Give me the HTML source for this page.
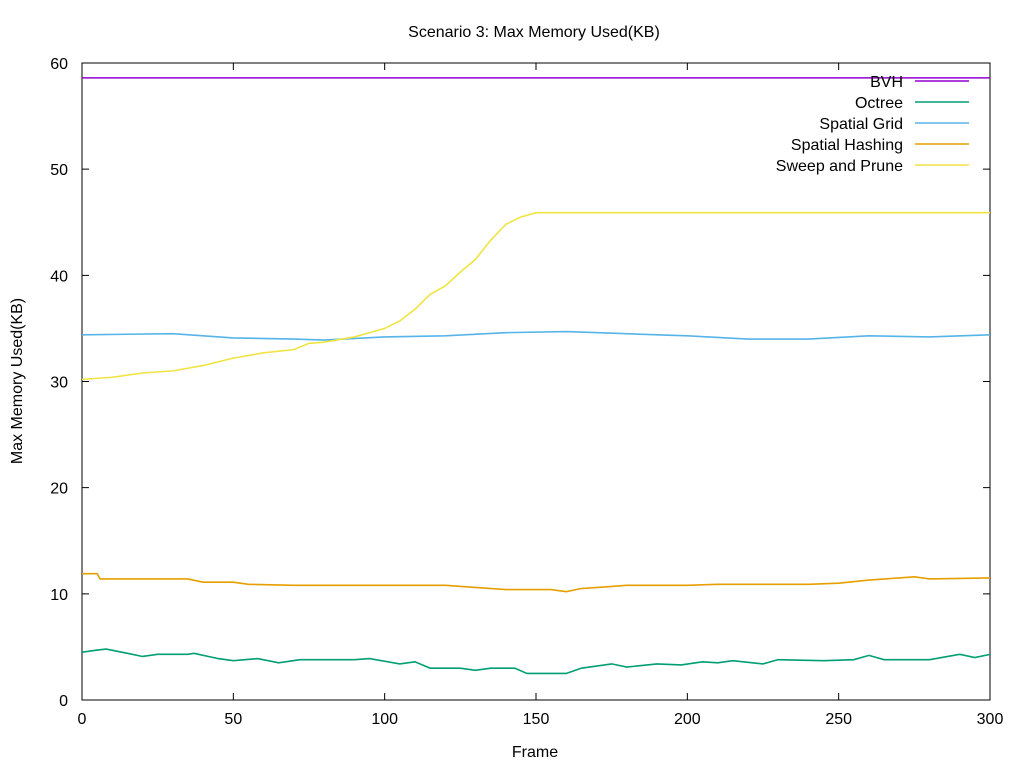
<!DOCTYPE html>
<html><head><meta charset="utf-8"><style>
body{margin:0;background:#fff;font-family:"Liberation Sans",sans-serif}
svg text{font-family:"Liberation Sans",sans-serif;font-size:16px;fill:#000}
</style></head><body>
<svg id="chart" width="1024" height="768">
<rect width="1024" height="768" fill="#fff"/>
<text x="534" y="37" text-anchor="middle">Scenario 3: Max Memory Used(KB)</text>
<text x="535" y="757" text-anchor="middle">Frame</text>
<text transform="translate(22,381) rotate(-90)" text-anchor="middle">Max Memory Used(KB)</text>
<rect x="82" y="63" width="908" height="637" fill="none" stroke="#000"/>
<g id="axes"></g><g id="series"></g><g id="legend"></g>
</svg>
<script>
const xTicks=[0,50,100,150,200,250,300];
const yTicks=[0,10,20,30,40,50,60];
const seriesNames=["BVH","Octree","Spatial Grid","Spatial Hashing","Sweep and Prune"];
const seriesColors=["#9400d3","#009e73","#56b4e9","#e69f00","#f0e442"];
const bvhX=[0,300];const bvhY=[58.6,58.6];
const octX=[0,5,8,15,20,25,35,37,45,50,58,65,72,90,95,105,110,115,125,130,135,143,147,160,165,170,175,180,190,198,205,210,215,225,230,245,255,260,265,280,290,295,300];
const octY=[4.5,4.7,4.8,4.4,4.1,4.3,4.3,4.4,3.9,3.7,3.9,3.5,3.8,3.8,3.9,3.4,3.6,3.0,3.0,2.8,3.0,3.0,2.5,2.5,3.0,3.2,3.4,3.1,3.4,3.3,3.6,3.5,3.7,3.4,3.8,3.7,3.8,4.2,3.8,3.8,4.3,4.0,4.3];
const gridX=[0,30,50,70,80,100,120,140,160,180,200,220,240,260,280,300];
const gridY=[34.4,34.5,34.1,34.0,33.9,34.2,34.3,34.6,34.7,34.5,34.3,34.0,34.0,34.3,34.2,34.4];
const hashX=[0,5,6,35,40,50,55,70,120,130,140,155,160,165,175,180,200,210,240,250,260,270,275,280,300];
const hashY=[11.9,11.9,11.4,11.4,11.1,11.1,10.9,10.8,10.8,10.6,10.4,10.4,10.2,10.5,10.7,10.8,10.8,10.9,10.9,11.0,11.3,11.5,11.6,11.4,11.5];
const sapX=[0,10,20,30,40,50,60,70,75,80,90,100,105,110,115,120,125,130,135,140,145,150,300];
const sapY=[30.2,30.4,30.8,31.0,31.5,32.2,32.7,33.0,33.6,33.7,34.2,35.0,35.7,36.8,38.2,39.0,40.3,41.5,43.3,44.8,45.5,45.9,45.9];
const allX=[bvhX,octX,gridX,hashX,sapX];const allY=[bvhY,octY,gridY,hashY,sapY];
const NS="http://www.w3.org/2000/svg";
const sx=v=>82+v/300*908, sy=v=>700-v/60*637;
const axes=document.getElementById('axes');
function mk(t,a,p){const e=document.createElementNS(NS,t);for(const k in a)e.setAttribute(k,a[k]);p.appendChild(e);return e;}
xTicks.forEach(t=>{const x=sx(t);
 const l=mk('path',{d:`M${x},700v-7M${x},63v7`,stroke:'#000'},axes);
 
 
 const tx=mk('text',{x:x,y:724,'text-anchor':'middle'},axes);tx.textContent=t;
 
 });
yTicks.forEach(t=>{const y=sy(t);
 const l=mk('path',{d:`M82,${y}h7M990,${y}h-7`,stroke:'#000'},axes);
 
 
 const tx=mk('text',{x:68,y:y+6,'text-anchor':'end'},axes);tx.textContent=t;
 
 });
const sg=document.getElementById('series'),lg=document.getElementById('legend');
seriesNames.forEach((n,i)=>{
 const pts=allX[i].map((x,j)=>sx(x)+','+sy(allY[i][j])).join(' ');
 const pl=mk('polyline',{points:pts,fill:'none',stroke:seriesColors[i],'stroke-width':1.6},sg);
 
 
 const y=81+i*21;
 const tx=mk('text',{x:903,y:y+6,'text-anchor':'end'},lg);tx.textContent=n;
 
 
 const ln=mk('line',{x1:915,x2:969,y1:y,y2:y,stroke:seriesColors[i],'stroke-width':1.6},lg);
 
 
});
</script>
</body></html>
